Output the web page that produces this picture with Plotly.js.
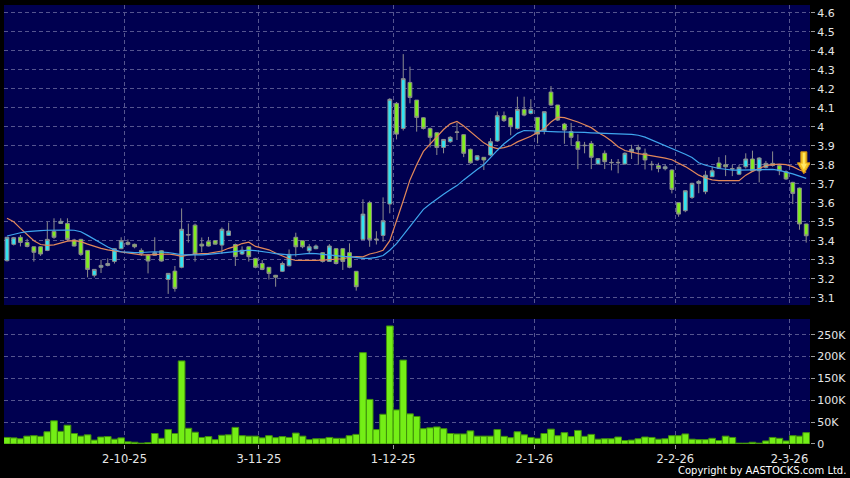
<!DOCTYPE html>
<html><head><meta charset="utf-8">
<script src="https://cdn.plot.ly/plotly-3.0.1.min.js"></script>
<style>html,body{margin:0;padding:0;background:#000;} #chart{width:850px;height:478px;}</style>
</head><body><div id="chart"></div>
<script>
// ---- data (index = trading day, 0 = first bar) ----
const openP = [3.295,3.381,3.418,3.391,3.368,3.368,3.349,3.449,3.491,3.491,
3.404,3.407,3.349,3.218,3.26,3.27,3.291,3.358,3.391,3.381,
3.349,3.323,3.323,3.347,3.196,3.24,3.26,3.43,3.482,3.382,
3.395,3.40,3.377,3.428,3.38,3.33,3.368,3.307,3.28,3.26,
3.218,3.239,3.268,3.418,3.40,3.347,3.358,3.337,3.291,3.358,
3.358,3.337,3.239,3.407,3.60,3.405,3.428,3.593,4.123,3.991,
4.233,4.14,4.047,3.991,3.968,3.891,3.921,3.97,3.958,3.881,
3.825,3.839,3.851,3.925,4.058,4.047,3.991,4.091,4.07,4.049,
3.979,4.182,4.114,4.014,3.974,3.921,3.90,3.912,3.804,3.86,
3.81,3.81,3.804,3.868,3.881,3.86,3.80,3.795,3.779,3.772,
3.60,3.558,3.628,3.702,3.658,3.737,3.809,3.80,3.777,3.75,
3.789,3.83,3.768,3.786,3.807,3.795,3.763,3.707,3.677,3.488];
const highP = [3.42,3.42,3.43,3.41,3.37,3.37,3.50,3.518,3.518,3.518,
3.41,3.41,3.35,3.25,3.30,3.307,3.36,3.418,3.407,3.385,
3.36,3.33,3.418,3.35,3.23,3.267,3.57,3.49,3.49,3.417,
3.42,3.40,3.47,3.495,3.385,3.37,3.37,3.31,3.298,3.26,
3.22,3.29,3.354,3.442,3.40,3.382,3.38,3.34,3.382,3.36,
3.36,3.386,3.24,3.618,3.61,3.45,3.628,4.15,4.13,4.382,
4.316,4.14,4.05,3.995,3.97,3.935,3.95,4.02,3.96,3.885,
3.85,3.84,3.94,4.08,4.08,4.05,4.158,4.158,4.145,4.05,
4.08,4.214,4.115,4.02,4.02,3.96,3.92,3.925,3.835,3.875,
3.83,3.83,3.865,3.905,3.905,3.885,3.82,3.81,3.80,3.775,
3.60,3.665,3.705,3.72,3.768,3.79,3.84,3.85,3.80,3.80,
3.86,3.874,3.84,3.82,3.87,3.80,3.77,3.71,3.68,3.49];
const lowP = [3.29,3.375,3.37,3.365,3.29,3.32,3.345,3.41,3.49,3.40,
3.37,3.32,3.207,3.207,3.23,3.265,3.28,3.355,3.375,3.36,
3.32,3.228,3.32,3.29,3.12,3.132,3.255,3.39,3.29,3.34,
3.37,3.38,3.33,3.425,3.267,3.325,3.29,3.255,3.245,3.196,
3.158,3.235,3.265,3.316,3.36,3.33,3.355,3.285,3.29,3.275,
3.246,3.255,3.137,3.405,3.368,3.38,3.395,3.544,3.933,3.98,
4.123,3.974,3.985,3.891,3.851,3.86,3.915,3.93,3.84,3.805,
3.82,3.772,3.845,3.92,4.025,3.955,3.985,4.055,4.065,3.912,
3.96,4.11,4.03,3.91,3.90,3.777,3.86,3.777,3.80,3.777,
3.77,3.755,3.80,3.83,3.80,3.775,3.77,3.76,3.77,3.649,
3.526,3.55,3.62,3.65,3.645,3.735,3.78,3.74,3.74,3.745,
3.78,3.765,3.707,3.78,3.79,3.745,3.72,3.593,3.458,3.39];
const closeP = [3.418,3.416,3.391,3.37,3.339,3.33,3.407,3.418,3.502,3.407,
3.372,3.328,3.249,3.249,3.27,3.28,3.358,3.40,3.381,3.368,
3.333,3.293,3.337,3.293,3.228,3.149,3.46,3.432,3.33,3.372,
3.372,3.382,3.46,3.451,3.316,3.35,3.316,3.26,3.249,3.228,
3.208,3.28,3.328,3.368,3.368,3.368,3.372,3.291,3.372,3.28,
3.291,3.26,3.158,3.54,3.407,3.408,3.505,4.144,3.961,4.253,
4.154,4.049,3.991,3.944,3.891,3.933,3.944,3.972,3.86,3.81,
3.847,3.825,3.921,4.058,4.032,4.0,4.091,4.061,4.091,3.961,
4.079,4.114,4.035,3.982,3.944,3.881,3.902,3.839,3.832,3.816,
3.812,3.812,3.86,3.881,3.891,3.825,3.802,3.78,3.789,3.67,
3.54,3.663,3.702,3.712,3.745,3.768,3.782,3.789,3.779,3.786,
3.83,3.768,3.835,3.807,3.796,3.768,3.725,3.649,3.488,3.426];
const volumeK = [15,14,12,18,19,17.5,28,53,29,43,
24,18,21,9,16,17,11,14,5,4,
2,3,24,13,33,24,190,36,27,15,
17,10,20,21,38,19,18,18,14,19,
14.5,17,15,25,18,10,12,12,15,13,
13,19,22,209,102,33,68,270,78,192,
69,63,35,37,39,35,24,23,23,30,
18,18,18,33,17.5,14.5,28,21,15,13,
24,34,19,26,17,31,17.5,22,11,12,
12,16,8,9,12,16,15,11,12,19,
19,23,11,10,10,13,8,18,15,2,
2,4,2,7,15,13,7,19,18,26];
const maShort = [3.518,3.50,3.465,3.43,3.40,3.38,3.375,3.378,3.386,3.398,
3.40,3.395,3.382,3.37,3.36,3.352,3.347,3.342,3.335,3.33,
3.325,3.325,3.327,3.33,3.33,3.325,3.318,3.325,3.33,3.332,
3.333,3.338,3.346,3.36,3.37,3.385,3.392,3.37,3.36,3.352,
3.335,3.318,3.305,3.296,3.295,3.295,3.296,3.298,3.30,3.30,
3.305,3.313,3.316,3.315,3.33,3.338,3.35,3.40,3.50,3.61,
3.72,3.80,3.87,3.91,3.947,3.985,4.015,4.028,4.004,3.975,
3.945,3.915,3.895,3.885,3.89,3.90,3.92,3.935,3.95,3.97,
3.99,4.025,4.05,4.048,4.038,4.025,4.01,3.995,3.97,3.95,
3.925,3.895,3.875,3.865,3.858,3.853,3.848,3.842,3.835,3.826,
3.81,3.79,3.768,3.745,3.73,3.72,3.716,3.715,3.714,3.716,
3.745,3.765,3.78,3.795,3.80,3.803,3.80,3.79,3.772,3.76];
const maLong = [3.425,3.435,3.442,3.448,3.452,3.453,3.455,3.456,3.456,3.456,
3.455,3.447,3.428,3.408,3.386,3.367,3.352,3.342,3.34,3.337,
3.338,3.341,3.342,3.34,3.338,3.332,3.326,3.325,3.324,3.325,
3.328,3.332,3.336,3.34,3.344,3.348,3.35,3.348,3.344,3.338,
3.332,3.328,3.325,3.326,3.33,3.333,3.332,3.328,3.325,3.322,
3.318,3.316,3.312,3.307,3.307,3.312,3.322,3.35,3.385,3.43,
3.48,3.525,3.565,3.593,3.62,3.645,3.668,3.69,3.72,3.75,
3.775,3.80,3.84,3.875,3.91,3.94,3.965,3.98,3.978,3.977,
3.976,3.974,3.973,3.972,3.972,3.971,3.97,3.968,3.966,3.965,
3.964,3.962,3.961,3.96,3.955,3.945,3.93,3.918,3.90,3.885,
3.87,3.855,3.838,3.81,3.797,3.788,3.78,3.776,3.772,3.772,
3.772,3.772,3.772,3.773,3.775,3.77,3.763,3.752,3.74,3.728];
const tickDayIndex = [18, 38, 58, 79, 100, 117];
const tickLabels = ['2-10-25','3-11-25','1-12-25','2-1-26','2-2-26','2-3-26'];
const priceTicks = [3.1,3.2,3.3,3.4,3.5,3.6,3.7,3.8,3.9,4.0,4.1,4.2,4.3,4.4,4.5,4.6];
const volTicks = [0,50000,100000,150000,200000,250000];
const volTickText = ['0','50K','100K','150K','200K','250K'];
const markerNote = {dayOffsetFromLast: -0.35, price: 3.752};  // yellow signal arrow (tip)

// ---- build ----
const idx = closeP.map((_, i) => i);
const volume = volumeK.map(v => v * 1000);
const gridAt = tickDayIndex.map(i => i - 0.5);   // grid lines sit on the bar boundary
const lastIdx = idx.length - 1;

const GRID = '#55558f';
const TXT = '#e6e6e6';
const FONT = 'DejaVu Sans, Verdana, sans-serif';

const traces = [
  {type:'bar', x:idx, y:volume, xaxis:'x2', yaxis:'y2',
   marker:{color:'#74ee16', line:{color:'#3f8f0c', width:1}}, hoverinfo:'skip'},
  {type:'candlestick', x:idx, open:openP, high:highP, low:lowP, close:closeP,
   xaxis:'x', yaxis:'y', whiskerwidth:0,
   increasing:{fillcolor:'#30e4f2', line:{color:'#8d8d8d', width:1}},
   decreasing:{fillcolor:'#80ee1e', line:{color:'#8d8d8d', width:1}},
   hoverinfo:'skip'},
  {type:'scatter', mode:'lines', x:idx, y:maShort, xaxis:'x', yaxis:'y',
   line:{color:'#e2885a', width:1.2}, hoverinfo:'skip'},
  {type:'scatter', mode:'lines', x:idx, y:maLong, xaxis:'x', yaxis:'y',
   line:{color:'#3fa6ee', width:1.2}, hoverinfo:'skip'}
];

const arrowX = lastIdx + markerNote.dayOffsetFromLast;
const xr = [-0.447, 119.566];
const layout = {
  width:850, height:478,
  margin:{l:4, r:40, t:5, b:34, pad:0},
  paper_bgcolor:'#000000', plot_bgcolor:'#000050',
  showlegend:false, boxgap:0.2, bargap:0,
  font:{family:FONT, size:11, color:TXT},
  xaxis:{domain:[0,1], anchor:'y', range:xr, tickvals:gridAt, showticklabels:false,
         showgrid:true, gridcolor:GRID, griddash:'4px,3px', gridwidth:1, zeroline:false,
         ticks:'', rangeslider:{visible:false}, fixedrange:true, showline:false},
  xaxis2:{domain:[0,1], anchor:'y2', matches:'x', range:xr, tickvals:gridAt, ticktext:tickLabels,
          showgrid:true, gridcolor:GRID, griddash:'4px,3px', gridwidth:1, zeroline:false,
          ticks:'outside', ticklen:4, tickcolor:'#9a9a9a', tickfont:{family:FONT, size:11.5, color:TXT},
          showline:false, fixedrange:true},
  yaxis:{domain:[0.3166,1], anchor:'x', side:'right', range:[3.0616,4.6405],
         tickvals:priceTicks, ticktext:priceTicks.map(v => String(v)),
         showgrid:true, gridcolor:GRID, griddash:'4px,3px', gridwidth:1, zeroline:false,
         ticks:'outside', ticklen:4, tickcolor:'#9a9a9a', tickfont:{family:FONT, size:11, color:TXT},
         showline:false, fixedrange:true},
  yaxis2:{domain:[0,0.2847], anchor:'x2', side:'right', range:[0,285900],
          tickvals:volTicks, ticktext:volTickText,
          showgrid:true, gridcolor:GRID, griddash:'4px,3px', gridwidth:1, zeroline:false,
          ticks:'outside', ticklen:4, tickcolor:'#9a9a9a', tickfont:{family:FONT, size:11, color:TXT},
          showline:false, fixedrange:true},
  shapes:[
    {type:'path', xref:'x', yref:'y', xsizemode:'pixel', ysizemode:'pixel',
     xanchor:arrowX, yanchor:markerNote.price,
     path:'M -3,22 L 3,22 L 3,11 L 6.5,11 L 0,0 L -6.5,11 L -3,11 Z',
     fillcolor:'#f4c222', line:{color:'#d08f10', width:1}, layer:'above'},
    {type:'path', xref:'x', yref:'y', xsizemode:'pixel', ysizemode:'pixel',
     xanchor:arrowX, yanchor:markerNote.price,
     path:'M -1,21 L 1,21 L 1,10 L 3,10 L 0,4 L -3,10 L -1,10 Z',
     fillcolor:'#ffe866', line:{width:0}, layer:'above'}
  ],
  annotations:[
    {xref:'paper', yref:'paper', x:1.0471, y:-0.0615, xanchor:'right', yanchor:'middle',
     text:'Copyright by AASTOCKS.com Ltd.', showarrow:false, font:{family:FONT, size:10, color:'#ffffff'}}
  ]
};

Plotly.newPlot('chart', traces, layout, {staticPlot:true, displayModeBar:false});
</script>
</body></html>
